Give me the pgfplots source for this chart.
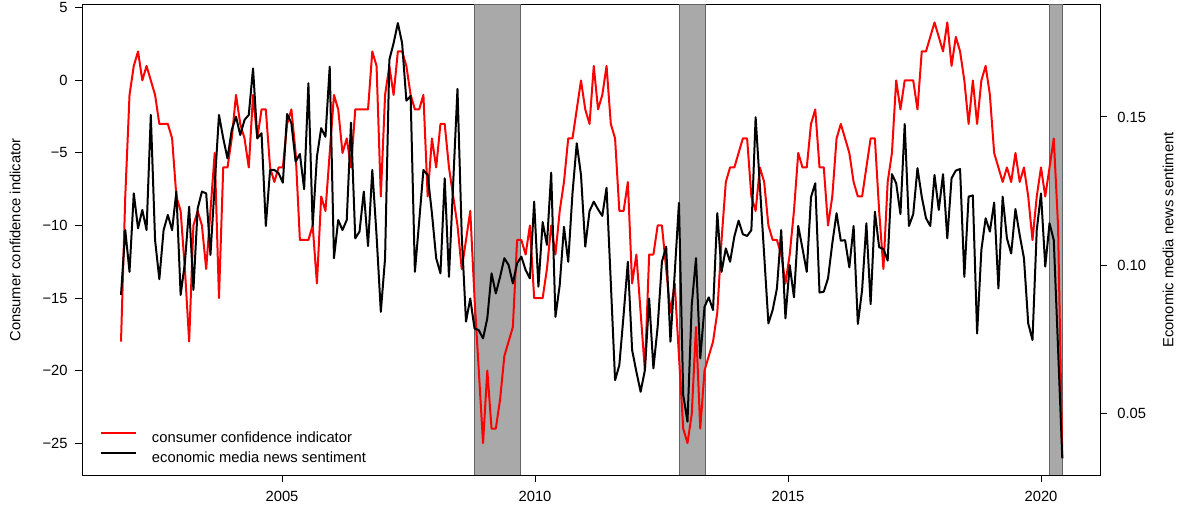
\documentclass[border=0pt]{standalone}
\usepackage{pgfplots}
\pgfplotsset{compat=1.18}
\usepackage{pgfplotstable}
\usepackage{fontspec}
\setmainfont{Liberation Sans}

\definecolor{band}{RGB}{169,169,169}
\definecolor{bandedge}{RGB}{100,100,100}
\definecolor{rred}{RGB}{255,0,0}

\pgfplotstableread{
k cci sent
1 -18 0.0899
2 -8 0.1118
3 -1 0.0977
4 1 0.1242
5 2 0.1124
6 0 0.1186
7 1 0.1118
8 0 0.1507
9 -1 0.1084
10 -3 0.0952
11 -3 0.1118
12 -3 0.1169
13 -4 0.1118
14 -8 0.1248
15 -9 0.0899
16 -13 0.1007
17 -18 0.1197
18 -10 0.0916
19 -9 0.1191
20 -10 0.1248
21 -13 0.1242
22 -9 0.1034
23 -5 0.1270
24 -15 0.1507
25 -6 0.1428
26 -6 0.1360
27 -4 0.1456
28 -1 0.1501
29 -3 0.1439
30 -4 0.1490
31 -6 0.1507
32 -1 0.1664
33 -4 0.1428
34 -2 0.1445
35 -2 0.1132
36 -6 0.1321
37 -7 0.1321
38 -6 0.1310
39 -6 0.1278
40 -3 0.1510
41 -2 0.1479
42 -5 0.1349
43 -11 0.1375
44 -11 0.1256
45 -11 0.1614
46 -10 0.1132
47 -14 0.1366
48 -8 0.1462
49 -9 0.1433
50 -5 0.1670
51 -1 0.1023
52 -2 0.1152
53 -5 0.1118
54 -4 0.1152
55 -6 0.1481
56 -2 0.1090
57 -2 0.1113
58 -2 0.1248
59 -2 0.1064
60 2 0.1321
61 1 0.1100
62 -8 0.0842
63 -1 0.1023
64 1 0.1693
65 -1 0.1749
66 2 0.1817
67 2 0.1749
68 1 0.1555
69 -1 0.1571
70 -2 0.0977
71 -2 0.1146
72 -1 0.1321
73 -8 0.1304
74 -4 0.1175
75 -6 0.1023
76 -3 0.0972
77 -3 0.1293
78 -6 0.0960
79 -8 0.1280
80 -10 0.1595
81 -13 0.1100
82 -11 0.0809
83 -9 0.0887
84 -15 0.0786
85 -20 0.0780
86 -25 0.0752
87 -20 0.0820
88 -24 0.0972
89 -24 0.0904
90 -22 0.0960
91 -19 0.1023
92 -18 0.1000
93 -17 0.0938
94 -11 0.1006
95 -11 0.1028
96 -12 0.0983
97 -10 0.0955
98 -15 0.1214
99 -15 0.0927
100 -15 0.1145
101 -13 0.1068
102 -10 0.1312
103 -12 0.0825
104 -9 0.0932
105 -7 0.1129
106 -4 0.1011
107 -4 0.1242
108 -2 0.1411
109 0 0.1304
110 -2 0.1062
111 -3 0.1182
112 1 0.1214
113 -2 0.1188
114 -1 0.1166
115 1 0.1261
116 -3 0.0940
117 -4 0.0611
118 -9 0.0662
119 -9 0.0831
120 -7 0.1011
121 -14 0.0713
122 -12 0.0640
123 -16 0.0572
124 -20 0.0645
125 -12 0.0887
126 -12 0.0651
127 -10 0.0792
128 -10 0.1011
129 -13 0.1062
130 -16 0.0741
131 -14 0.0972
132 -19 0.1210
133 -24 0.0561
134 -25 0.0471
135 -23 0.0865
136 -17 0.1023
137 -24 0.0685
138 -20 0.0859
139 -19 0.0891
140 -18 0.0848
141 -16 0.1175
142 -11 0.0977
143 -7 0.1056
144 -6 0.1011
145 -6 0.1096
146 -5 0.1150
147 -4 0.1104
148 -4 0.1098
149 -8 0.1118
150 -9 0.1499
151 -6 0.1267
152 -7 0.1035
153 -10 0.0803
154 -11 0.0848
155 -11 0.0921
156 -12 0.1118
157 -14 0.0820
158 -12 0.1000
159 -9 0.0891
160 -5 0.1132
161 -6 0.1056
162 -6 0.0977
163 -3 0.1229
164 -2 0.1276
165 -6 0.0907
166 -6 0.0910
167 -10 0.0955
168 -8 0.1073
169 -4 0.1175
170 -3 0.1082
171 -4 0.1084
172 -5 0.0992
173 -7 0.1132
174 -8 0.0801
175 -8 0.0916
176 -6 0.1141
177 -4 0.0868
178 -4 0.1180
179 -9 0.1060
180 -13 0.1054
181 -7 0.1015
182 -5 0.1307
183 0 0.1276
184 -2 0.1172
185 0 0.1476
186 0 0.1132
187 0 0.1172
188 -2 0.1327
189 2 0.1231
190 2 0.1158
191 3 0.1132
192 4 0.1304
193 3 0.1186
194 2 0.1307
195 4 0.1090
196 1 0.1293
197 3 0.1319
198 2 0.1324
199 0 0.0960
200 -3 0.1231
201 0 0.1235
202 -3 0.0769
203 0 0.1051
204 1 0.1158
205 -1 0.1113
206 -5 0.1211
207 -6 0.0921
208 -7 0.1231
209 -6 0.1090
210 -7 0.1039
211 -5 0.1189
212 -7 0.1101
213 -6 0.1023
214 -8 0.0803
215 -11 0.0747
216 -8 0.1118
217 -6 0.1242
218 -8 0.0995
219 -6 0.1141
220 -4 0.1084
221 -10 0.0720
222 -26 0.0347
}\data

\newcommand{\tfont}{\fontsize{7.4}{8.9}\selectfont}

\begin{document}
\begin{tikzpicture}
\pgfplotsset{
  every axis/.append style={
    scale only axis, width=509bp, height=235bp,
    xmin=2001.047, xmax=2021.166,
    tick align=outside,
    major tick length=3.5bp,
    every tick/.style={black, line width=0.5bp},
    axis line style={line width=0.5bp},
    tick label style={font=\tfont, inner sep=0pt},
  }
}
\begin{axis}[name=main,
  ymin=-27.2, ymax=5.2,
  xtick={2005,2010,2015,2020}, xticklabels={2005,2010,2015,2020},
  xtick pos=left, ytick pos=left,
  ytick={-25,-20,-15,-10,-5,0,5},
  yticklabels={−25,−20,−15,−10,−5,0,5},
  xticklabel shift=4.5bp,
  yticklabel shift=3.5bp,
  every axis y label/.style={at={(axis description cs:0,0.5)}, xshift=-33.5bp, rotate=90, anchor=center, font=\tfont},
  ylabel={Consumer confidence indicator},
  legend style={at={(axis description cs:0,0)}, anchor=south west, xshift=9bp, yshift=6.4bp,
    draw=none, fill=none, inner sep=0pt, outer sep=0pt, row sep=4.5bp, column sep=7.5bp,
    font=\tfont, nodes={inner sep=0pt, text height=5.5bp, text depth=0bp}},
  legend cell align=left,
  legend image code/.code={\path (0bp,0bp) (17.5bp,0bp); \draw[#1] (0bp,1.9bp) -- (17.5bp,1.9bp);},
]
\addplot[fill=band, draw=bandedge, line width=0.5bp, forget plot] coordinates {(2008.81,-27.2) (2009.72,-27.2) (2009.72,5.2) (2008.81,5.2)} -- cycle;
\addplot[fill=band, draw=bandedge, line width=0.5bp, forget plot] coordinates {(2012.85,-27.2) (2013.36,-27.2) (2013.36,5.2) (2012.85,5.2)} -- cycle;
\addplot[fill=band, draw=bandedge, line width=0.5bp, forget plot] coordinates {(2020.16,-27.2) (2020.415,-27.2) (2020.415,5.2) (2020.16,5.2)} -- cycle;
\addplot[rred, line width=1bp, line join=round] table[x expr={2001.818+(\thisrow{k}-1)*0.084176}, y=cci]{\data};
\addlegendentry{consumer confidence indicator}
\addlegendimage{black, line width=1bp}
\addlegendentry{economic media news sentiment}
\end{axis}
\begin{axis}[
  ymin=0.0291, ymax=0.1878,
  axis x line=none,
  axis y line*=right,
  ytick pos=right,
  ytick={0.05,0.10,0.15}, yticklabels={0.05,0.10,0.15},
  yticklabel shift=5bp,
  every axis y label/.style={at={(axis description cs:1,0.5)}, xshift=34bp, rotate=90, anchor=center, font=\tfont},
  ylabel={Economic media news sentiment},
]
\addplot[black, line width=1bp, line join=round] table[x expr={2001.818+(\thisrow{k}-1)*0.084176}, y=sent]{\data};
\end{axis}
\pgfresetboundingbox
\path[use as bounding box] ([shift={(-41bp,-21.5bp)}]main.south west) rectangle ([shift={(41.5bp,2.5bp)}]main.north east);
\end{tikzpicture}
\end{document}
